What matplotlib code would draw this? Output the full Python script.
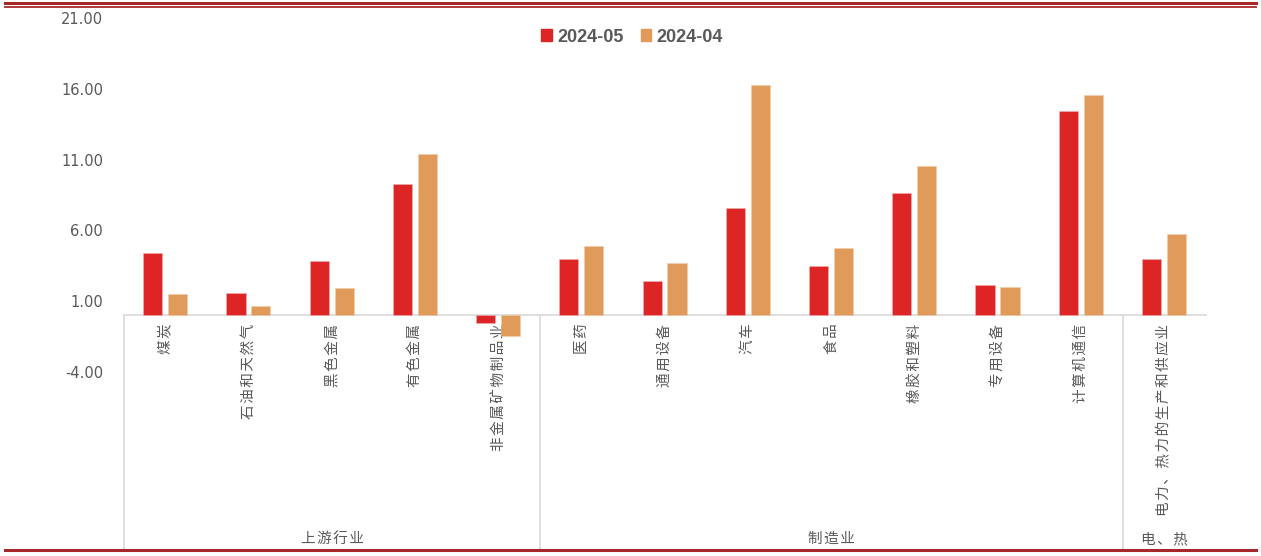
import matplotlib
matplotlib.use("Agg")
from matplotlib import pyplot as plt
from matplotlib.lines import Line2D
from matplotlib.patches import Patch

# data
categories = ["煤炭", "石油和天然气", "黑色金属", "有色金属", "非金属矿物制品业",
              "医药", "通用设备", "汽车", "食品", "橡胶和塑料", "专用设备", "计算机通信",
              "电力、热力的生产和供应业"]
may_values = [4.38, 1.60, 3.86, 9.31, -0.55, 3.95, 2.40, 7.59, 3.48, 8.63, 2.12, 14.46, 3.98]
apr_values = [1.48, 0.68, 1.96, 11.38, -1.45, 4.89, 3.67, 16.28, 4.78, 10.54, 2.00, 15.57, 5.72]
series_names = ["2024-05", "2024-04"]
groups = ["上游行业", "制造业", "电、热"]
group_spans = [(0, 4), (5, 11), (12, 12)]
y_ticks = [-4, 1, 6, 11, 16, 21]

RED = "#DE2526"
ORANGE = "#E09B5A"
GRAY_TXT = "#595959"
GRAY_LINE = "#D9D9D9"
DARK_RED = "#A8282A"
CJK = ["Noto Sans CJK SC", "DejaVu Sans"]
HAIR = "\u200a"


def spaced(s):
    # excel spreads the CJK glyphs a little
    return HAIR.join(s)


W, H = 1261, 556
fig = plt.figure(figsize=(W / 100, H / 100), dpi=100)

# axes: x from 124 to 1206 px, y from 18 (value 21) to 549 px
left, right, top, bottom = 124, 1206, 18, 549
ax = fig.add_axes([left / W, 1 - bottom / H, (right - left) / W, (bottom - top) / H])
px_per_unit = 14.16
ymin = 21 - (bottom - top) / px_per_unit
ax.set_ylim(ymin, 21)
ax.set_xlim(-0.5, len(categories) - 0.5)

x = list(range(len(categories)))
bw = 0.23
ax.bar([i - 0.155 for i in x], may_values, width=bw, color=RED, edgecolor="#F3B0B0", linewidth=0.4, zorder=3)
ax.bar([i + 0.145 for i in x], apr_values, width=bw, color=ORANGE, edgecolor="#F3CDA8", linewidth=0.4, zorder=3)

for s in ["top", "right", "left"]:
    ax.spines[s].set_visible(False)
ax.spines["bottom"].set_position(("data", 0))
ax.spines["bottom"].set_color(GRAY_LINE)
ax.spines["bottom"].set_linewidth(1.2)

ax.set_yticks(y_ticks)
ax.set_yticklabels([f"{v:.2f}" for v in y_ticks], fontsize=10.5, color=GRAY_TXT,
                   fontfamily="DejaVu Sans")
ax.tick_params(axis="y", length=0, pad=15)

ax.set_xticks(x)
ax.set_xticklabels([spaced(c) for c in categories], rotation=90, va="top", ha="center",
                   fontsize=10.5, color=GRAY_TXT, fontfamily=CJK)
ax.tick_params(axis="x", length=0, pad=6)

# group separators and labels
for a, b in group_spans:
    ax.vlines(a - 0.5, ymin, 0, color=GRAY_LINE, linewidth=1.2, clip_on=False)
for name, (a, b) in zip(groups, group_spans):
    ax.text((a + b) / 2, 0.019, spaced(name), transform=ax.get_xaxis_transform(),
            ha="center", va="center", fontsize=10.5, color=GRAY_TXT, fontfamily=CJK)

# legend
handles = [Patch(color=RED), Patch(color=ORANGE)]
fig.legend(handles, series_names, loc="center", bbox_to_anchor=(632 / W, 1 - 37 / H),
           ncol=2, frameon=False, handlelength=0.6, handleheight=0.6, handletextpad=0.3,
           columnspacing=0.95, prop={"family": "Liberation Sans", "weight": "bold", "size": 13},
           labelcolor=GRAY_TXT)

# decorative red rules
fig.add_artist(Line2D([5 / W, 1256 / W], [1 - 2.5 / H, 1 - 2.5 / H], color=DARK_RED, linewidth=2.2))
fig.add_artist(Line2D([5 / W, 1256 / W], [1 - 6.5 / H, 1 - 6.5 / H], color=DARK_RED, linewidth=1.3))
fig.add_artist(Line2D([5 / W, 1256 / W], [1 - 550 / H, 1 - 550 / H], color=DARK_RED, linewidth=2.2))

fig.savefig("out.png", dpi=100)
